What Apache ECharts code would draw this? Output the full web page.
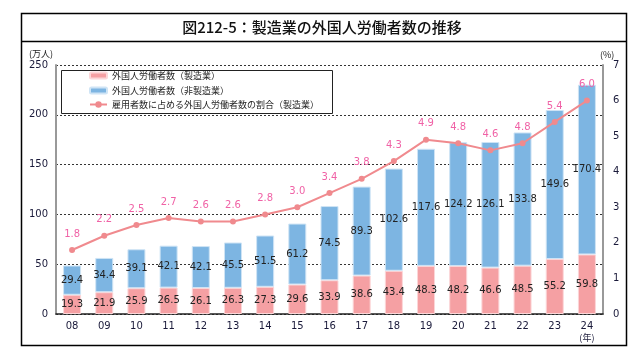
<!DOCTYPE html>
<html><head><meta charset="utf-8">
<script src="https://cdn.jsdelivr.net/npm/echarts@6/dist/echarts.min.js"></script>
<style>html,body{margin:0;padding:0;background:#fff}#c{width:636px;height:349px}</style>
</head><body><div id="c"></div>
<script>
const years = ['08','09','10','11','12','13','14','15','16','17','18','19','20','21','22','23','24'];
const mfg = [19.3,21.9,25.9,26.5,26.1,26.3,27.3,29.6,33.9,38.6,43.4,48.3,48.2,46.6,48.5,55.2,59.8];
const nonMfg = [29.4,34.4,39.1,42.1,42.1,45.5,51.5,61.2,74.5,89.3,102.6,117.6,124.2,126.1,133.8,149.6,170.4];
const share = [1.8,2.2,2.5,2.7,2.6,2.6,2.8,3.0,3.4,3.8,4.3,4.9,4.8,4.6,4.8,5.4,6.0];
const leftTicks = [0,50,100,150,200,250];
const rightTicks = [0,1,2,3,4,5,6,7];
const names = ['外国人労働者数（製造業）','外国人労働者数（非製造業）','雇用者数に占める外国人労働者数の割合（製造業）'];
const titleText = '図212-5：製造業の外国人労働者数の推移';

const chart = echarts.init(document.getElementById('c'), null, {renderer:'canvas'});
const F = 'DejaVu Sans, Verdana, sans-serif';
const J = '"Noto Sans CJK JP", sans-serif';
const legendBase = (name, top) => ({
  data:[name], left:89, top:top, orient:'vertical', padding:0,
  itemWidth:17, itemHeight:6, itemGap:0,
  textStyle:{fontFamily:J, fontSize:9, color:'#222'}
});
chart.setOption({
  animation:false,
  textStyle:{fontFamily:F},
  grid:{left:56, right:33, top:65, bottom:35},
  legend:[legendBase(names[0],71), legendBase(names[1],86),
    Object.assign(legendBase(names[2],100),{itemHeight:8})],
  graphic:[
    {type:'rect', shape:{x:21.5,y:13.5,width:605,height:332}, style:{fill:'none',stroke:'#000',lineWidth:1.5}, silent:true},
    {type:'line', shape:{x1:21.5,y1:41.5,x2:626.5,y2:41.5}, style:{stroke:'#000',lineWidth:1.5}, silent:true},
    {type:'text', x:322, y:27, style:{text:titleText, font:'500 15px "Noto Sans CJK JP"', fill:'#111', textAlign:'center', textVerticalAlign:'middle'}},
    {type:'rect', shape:{x:61.5,y:70.5,width:271,height:43}, style:{fill:'none',stroke:'#222',lineWidth:1}, silent:true, z:1},
    {type:'text', x:29, y:54, style:{text:'(万人)', font:'9px "Noto Sans CJK JP"', fill:'#222', textVerticalAlign:'middle'}},
    {type:'text', x:600, y:55, style:{text:'(%)', font:'9px "Noto Sans CJK JP"', fill:'#222', textVerticalAlign:'middle'}}
  ],
  xAxis:{type:'category', data:years,
    axisLine:{lineStyle:{color:'#222', width:1.5}}, axisTick:{show:false},
    axisLabel:{interval:0, color:'#1a1a3a', fontSize:10, fontFamily:F, margin:7, lineHeight:11,
      formatter:(v,i)=> i===years.length-1 ? v+'\n{n|(年)}' : v,
      rich:{n:{fontFamily:J, fontSize:9, color:'#1a1a3a'}}}},
  yAxis:[
    {type:'value', min:leftTicks[0], max:leftTicks[leftTicks.length-1], interval:50,
      axisLine:{show:true, lineStyle:{color:'#999', width:2}}, axisTick:{show:false},
      axisLabel:{color:'#1a1a3a', fontSize:10, fontFamily:F, margin:8},
      splitLine:{lineStyle:{color:'#333', type:[2,2], width:1}}},
    {type:'value', min:rightTicks[0], max:rightTicks[rightTicks.length-1], interval:1,
      axisLine:{show:true, lineStyle:{color:'#999', width:2}}, axisTick:{show:false},
      axisLabel:{color:'#1a1a3a', fontSize:10, fontFamily:F, margin:10},
      splitLine:{show:false}}
  ],
  series:[
    {name:names[0], type:'bar', stack:'a', data:mfg, barWidth:18,
      itemStyle:{color:'#F5A0A3', borderColor:'#FCD6D8', borderWidth:1},
      label:{show:true, position:'inside', color:'#222', fontSize:10, fontFamily:F}},
    {name:names[1], type:'bar', stack:'a', data:nonMfg, barWidth:18,
      itemStyle:{color:'#7DB5E2', borderColor:'#CFE4F5', borderWidth:1},
      label:{show:true, position:'inside', color:'#222', fontSize:10, fontFamily:F}},
    {name:names[2], type:'line', yAxisIndex:1, data:share, symbol:'circle', symbolSize:6,
      lineStyle:{color:'#F08A8E', width:2}, itemStyle:{color:'#F08A8E'},
      label:{show:true, position:'top', distance:8, color:'#F062A6', fontSize:10, fontFamily:F, formatter:p=>p.value.toFixed(1)}, z:5}
  ]
});
</script></body></html>
